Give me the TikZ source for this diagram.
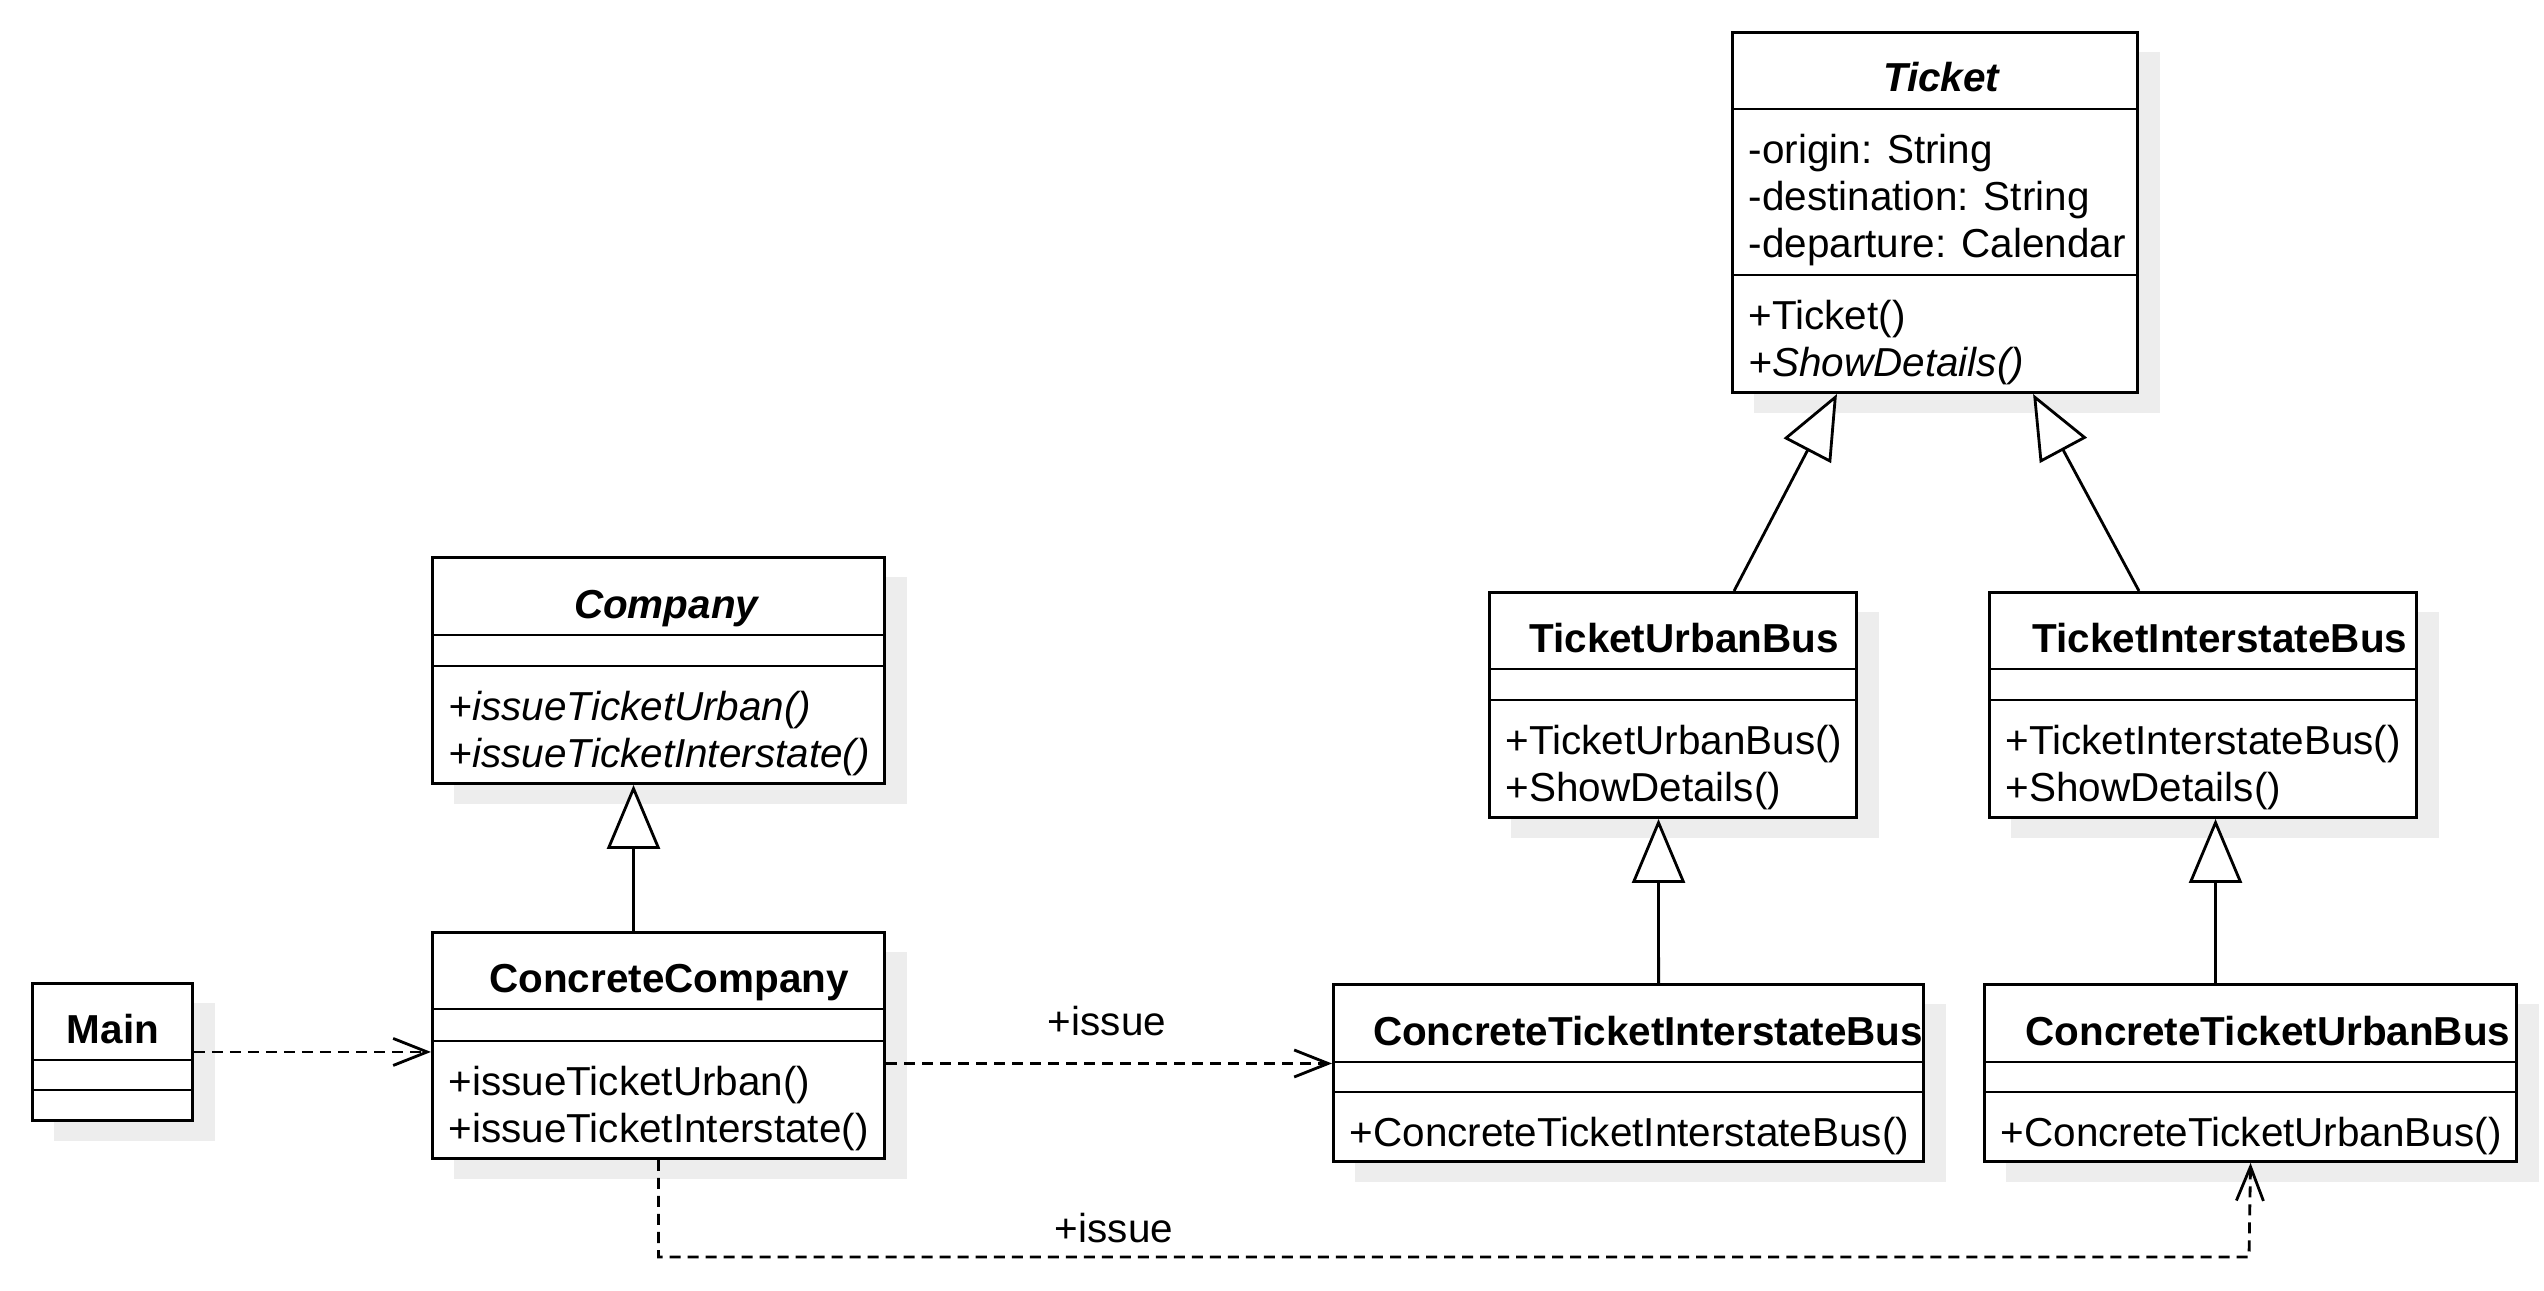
\documentclass[tikz,border=0pt]{standalone}
\usepackage{fontspec}
\setmainfont{Liberation Sans}
\usetikzlibrary{arrows.meta,shadows}
\newcommand{\umlfont}{\fontsize{11.5}{13.4}\selectfont}
\tikzset{
  cls style/.style={rectangle, draw, thick, fill=white, anchor=north west, inner sep=0pt,
    drop shadow={shadow xshift=0.22cm, shadow yshift=-0.2cm, fill=black!7, opacity=1}},
  name style/.style={anchor=base, inner sep=0pt, font=\umlfont\bfseries},
  mem style/.style={anchor=north west, inner sep=0pt, align=left, font=\umlfont},
  sep style/.style={thick},
  dep style/.style={thick, dash pattern=on 0.11cm off 0.07cm,
    -{Straight Barb[length=0.34cm, width=0.27cm]}},
  inh style/.style={thick, -{Triangle[length=0.64cm, width=0.53cm, fill=white]}}
}

\begin{document}
\begin{tikzpicture}[x=0.01cm, y=-0.01cm]
\useasboundingbox (0,0) rectangle (2544,1291);

% class boxes
\node[cls style, minimum width=1.60cm, minimum height=1.37cm] (main) at (31,982) {};
\node[cls style, minimum width=4.52cm, minimum height=2.26cm] (company) at (431,556) {};
\node[cls style, minimum width=4.52cm, minimum height=2.26cm] (ccomp) at (431,931) {};
\node[cls style, minimum width=4.05cm, minimum height=3.60cm] (ticket) at (1731,31) {};
\node[cls style, minimum width=3.67cm, minimum height=2.25cm] (tub) at (1488,591) {};
\node[cls style, minimum width=4.27cm, minimum height=2.25cm] (tib) at (1988,591) {};
\node[cls style, minimum width=5.90cm, minimum height=1.77cm] (ctib) at (1332,983) {};
\node[cls style, minimum width=5.32cm, minimum height=1.77cm] (ctub) at (1983,983) {};

% compartments
\draw[sep style] (main.west |- 0,1060) -- (main.east |- 0,1060);
\draw[sep style] (main.west |- 0,1090) -- (main.east |- 0,1090);
\draw[sep style] (company.west |- 0,635) -- (company.east |- 0,635);
\draw[sep style] (company.west |- 0,666) -- (company.east |- 0,666);
\draw[sep style] (ccomp.west |- 0,1009) -- (ccomp.east |- 0,1009);
\draw[sep style] (ccomp.west |- 0,1041) -- (ccomp.east |- 0,1041);
\draw[sep style] (ticket.west |- 0,109) -- (ticket.east |- 0,109);
\draw[sep style] (ticket.west |- 0,275) -- (ticket.east |- 0,275);
\draw[sep style] (tub.west |- 0,669) -- (tub.east |- 0,669);
\draw[sep style] (tub.west |- 0,700) -- (tub.east |- 0,700);
\draw[sep style] (tib.west |- 0,669) -- (tib.east |- 0,669);
\draw[sep style] (tib.west |- 0,700) -- (tib.east |- 0,700);
\draw[sep style] (ctib.west |- 0,1062) -- (ctib.east |- 0,1062);
\draw[sep style] (ctib.west |- 0,1092) -- (ctib.east |- 0,1092);
\draw[sep style] (ctub.west |- 0,1062) -- (ctub.east |- 0,1062);
\draw[sep style] (ctub.west |- 0,1092) -- (ctub.east |- 0,1092);

% names
\node[name style] (main name) at (113,1043) {Main};
\node[name style] (company name) at (667,618) {\textit{Company}};
\node[name style] (ccomp name) at (669,992) {ConcreteCompany};
\node[name style] (ticket name) at (1942,92) {\textit{Ticket}};
\node[name style] (tub name) at (1684,652) {TicketUrbanBus};
\node[name style] (tib name) at (2220,652) {TicketInterstateBus};
\node[name style] (ctib name) at (1648,1045) {ConcreteTicketInterstateBus};
\node[name style] (ctub name) at (2268,1045) {ConcreteTicketUrbanBus};

% members
\node[mem style] (company ops) at (448,690)
  {\textit{+issueTicketUrban()}\\\textit{+issueTicketInterstate()}};
\node[mem style] (ccomp ops) at (448,1065)
  {+issueTicketUrban()\\+issueTicketInterstate()};
\node[mem style] (ticket attrs) at (1748,133)
  {-origin: String\\-destination: String\\-departure: Calendar};
\node[mem style] (ticket ops) at (1748,299)
  {+Ticket()\\\textit{+ShowDetails()}};
\node[mem style] (tub ops) at (1505,724)
  {+TicketUrbanBus()\\+ShowDetails()};
\node[mem style] (tib ops) at (2005,724)
  {+TicketInterstateBus()\\+ShowDetails()};
\node[mem style] (ctib ops) at (1349,1116) {+ConcreteTicketInterstateBus()};
\node[mem style] (ctub ops) at (2000,1116) {+ConcreteTicketUrbanBus()};

% dependencies
\coordinate (bend) at (2249,1257);
\draw[dep style] (main.east) -- (main.east -| ccomp.west);
\draw[dep style] ([yshift=-0.18cm]ccomp.east) -- ([yshift=-0.18cm]ccomp.east -| ctib.west);
\draw[dep style] (ccomp.south) |- (bend) -- (ctub.south);
\node[name style, font=\umlfont] (issue a) at (1107,1035) {+issue};
\node[name style, font=\umlfont] (issue b) at (1114,1242) {+issue};

% generalisations
\draw[inh style] ([xshift=-0.25cm]ccomp.north) -- ([xshift=-0.25cm]company.south);
\draw[inh style] ([xshift=0.61cm]tub.north) -- ([xshift=-0.98cm]ticket.south);
\draw[inh style] ([xshift=-0.64cm]tib.north) -- ([xshift=0.98cm]ticket.south);
\draw[inh style] ([xshift=0.30cm]ctib.north) -- ([xshift=-0.145cm]tub.south);
\draw[inh style] ([xshift=-0.35cm]ctub.north) -- ([xshift=0.125cm]tib.south);
\end{tikzpicture}
\end{document}
